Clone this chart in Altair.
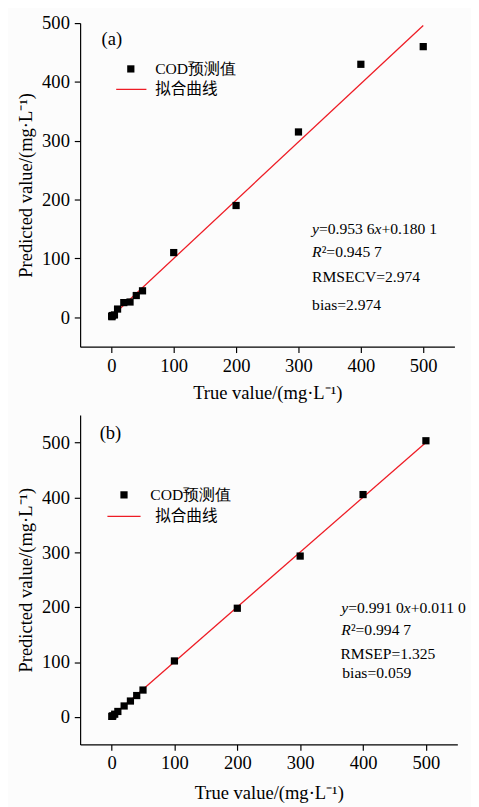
import altair as alt
import pandas as pd

# ---- data ----
true_vals = [0.5, 1, 2, 5, 10, 20, 30, 40, 50, 100, 200, 300, 400, 500]
pred_a = [2, 1, 3, 4, 14, 25, 26, 37, 45, 110, 190, 315, 430, 460]
pred_b = [1, 1, 2, 5, 10, 20, 29, 39, 49, 102, 198, 293, 405, 503]
fit_x = [0, 500]
fit_a = [1, 496]
fit_b = [0.5, 500]
tick_vals = [0, 100, 200, 300, 400, 500]

FONT = "Liberation Serif"
CJK = "Noto Sans CJK SC"
RED = "#ee1c25"
one = pd.DataFrame({"k": [0]})


def txt(s, x, y, size=16, italic=False, font=FONT):
    kw = dict(align="left", baseline="middle", font=font, fontSize=size, color="black")
    if italic:
        kw["fontStyle"] = "italic"
    return alt.Chart(one).mark_text(**kw).encode(
        x=alt.value(x), y=alt.value(y), text=alt.value(s)
    )


def panel(pred, fit, ydom, w, h, label, leg, ann, xtp):
    df = pd.DataFrame({"t": true_vals, "p": pred})
    fdf = pd.DataFrame({"t": fit_x, "p": fit})
    xs = alt.Scale(domain=[-50, 550], nice=False, zero=False)
    ys = alt.Scale(domain=ydom, nice=False, zero=False)
    xax = alt.Axis(values=tick_vals, title="True value/(mg·L⁻¹)", titlePadding=xtp, labelPadding=4)
    yax = alt.Axis(values=tick_vals, title="Predicted value/(mg·L⁻¹)")
    line = alt.Chart(fdf).mark_line(color=RED, strokeWidth=1.3).encode(
        x=alt.X("t:Q", scale=xs, axis=xax), y=alt.Y("p:Q", scale=ys, axis=yax)
    )
    pts = alt.Chart(df).mark_point(shape="square", filled=True, size=55, color="black", opacity=1).encode(
        x=alt.X("t:Q", scale=xs, axis=xax), y=alt.Y("p:Q", scale=ys, axis=yax)
    )
    layers = [line, pts]
    # panel label
    layers.append(txt(label[0], label[1], label[2], size=19))
    # legend
    (sqx, sqy, t1x, lx1, lx2, ly, t2x) = leg
    layers.append(alt.Chart(one).mark_point(shape="square", filled=True, size=55, color="black", opacity=1).encode(
        x=alt.value(sqx), y=alt.value(sqy)))
    layers.append(txt("COD预测值", t1x, sqy, size=16))
    layers.append(alt.Chart(one).mark_rule(color=RED, strokeWidth=1.3).encode(
        x=alt.value(lx1), x2=alt.value(lx2), y=alt.value(ly)))
    layers.append(txt("拟合曲线", t2x, ly, size=16, font=CJK))
    # annotation
    for s, x, y, it in ann:
        layers.append(txt(s, x, y, size=16, italic=it))
    return alt.layer(*layers).properties(width=w, height=h)


ann_a = [
    ("y", 238, 211, True), ("=0.953 6", 245.1, 211, False), ("x", 302.1, 211, True), ("+0.180 1", 309.2, 211, False),
    ("R", 238, 235, True), ("²=0.945 7", 247.8, 235, False),
    ("RMSECV=2.974", 238, 261, False),
    ("bias=2.974", 238, 289, False),
]
ann_b = [
    ("y", 268, 198, True), ("=0.991 0", 275.1, 198, False), ("x", 332.1, 198, True), ("+0.011 0", 339.2, 198, False),
    ("R", 268, 221, True), ("²=0.994 7", 277.8, 221, False),
    ("RMSEP=1.325", 267, 245, False),
    ("bias=0.059", 269, 265, False),
]

pa = panel(pred_a, fit_a, [-50, 500], 384, 332, ("(a)", 22, 16),
           (52, 47, 77, 37, 68, 68, 77), ann_a, 9)
pb = panel(pred_b, fit_b, [-50, 550], 387, 338, ("(b)", 20, 19),
           (45, 82, 72, 28, 62, 104, 77), ann_b, 12)

chart = alt.vconcat(pa, pb, spacing=13).properties(
    background="#fcfcfc", padding={"left": 9, "top": -4, "right": 5, "bottom": 5}
).configure_view(stroke=None).configure_axis(
    labelFont=FONT, labelFontSize=19, labelColor="black",
    titleFont=FONT, titleFontSize=19, titleFontWeight="normal", titleColor="black",
    domainColor="black", domainWidth=1.2, tickColor="black", tickSize=6, tickWidth=1.2,
    grid=False, labelPadding=3, titlePadding=6,
).configure_axisY(labelPadding=5)

chart.save("out.html", embed_options={"renderer": "svg", "actions": False})
